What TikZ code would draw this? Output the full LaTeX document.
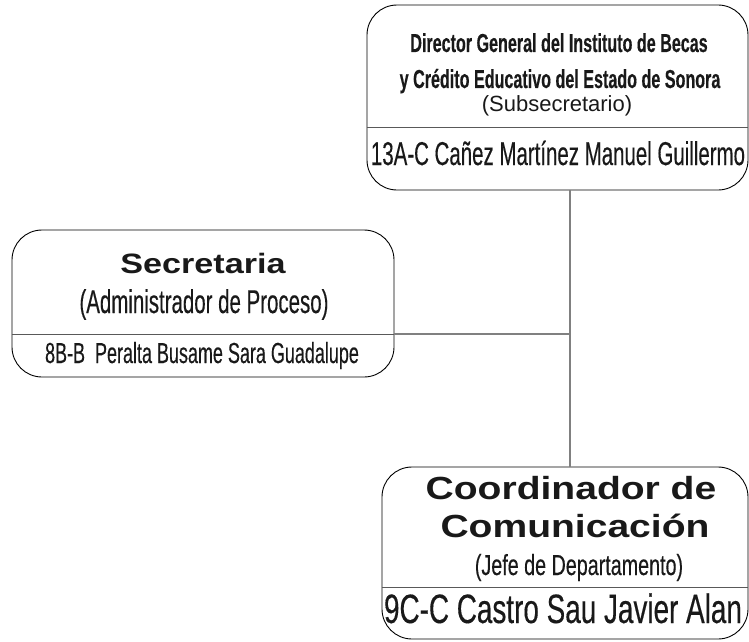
\documentclass[tikz,border=0pt]{standalone}
\usepackage{fontspec}
\setmainfont{Liberation Sans}
\newfontfamily\narrowfont[FakeStretch=0.62, FakeBold=0.3]{Liberation Sans}
\newfontfamily\narrowerfont[FakeStretch=0.68, FakeBold=0.3]{Liberation Sans}
\newfontfamily\widefont[FakeStretch=1.22]{Liberation Sans}
\tikzset{
  box/.style={draw=black, line width=0.9pt, rounded corners=30pt, inner sep=0pt, outer sep=0pt},
  divider/.style={draw=black!65, line width=0.9pt},
  link/.style={draw=black!50, line width=1.6pt},
  txt/.style={anchor=base, inner sep=0pt, text=black!90},
}
\begin{document}
\begin{tikzpicture}[x=1pt,y=-1pt]
  \useasboundingbox (0,0) rectangle (749,642);
  % boxes
  \node[box, minimum width=381pt, minimum height=185pt] (director) at (557.5,97.5) {};
  \node[box, minimum width=382pt, minimum height=147pt] (secretaria) at (203,303.5) {};
  \node[box, minimum width=366pt, minimum height=172pt] (coordinador) at (565,553) {};
  \draw[divider] (director.west |- 0,127) -- (director.east |- 0,127);
  \draw[divider] (secretaria.west |- 0,334) -- (secretaria.east |- 0,334);
  \draw[divider] (coordinador.west |- 0,587) -- (coordinador.east |- 0,587);
  % texts
  \node[txt, font=\narrowfont\bfseries\fontsize{26}{26}\selectfont] (dir1) at (559,52) {Director General del Instituto de Becas};
  \node[txt, font=\narrowfont\bfseries\fontsize{26}{26}\selectfont] (dir2) at (560,88) {y Crédito Educativo del Estado de Sonora};
  \node[txt, font=\fontsize{22}{22}\selectfont] (dir3) at (557,111) {(Subsecretario)};
  \node[txt, font=\narrowfont\fontsize{33}{33}\selectfont] (dirname) at (558,165) {13A-C Cañez Martínez Manuel Guillermo};
  \node[txt, font=\widefont\bfseries\fontsize{28}{28}\selectfont] (sec1) at (203,273) {Secretaria};
  \node[txt, font=\narrowfont\fontsize{33}{33}\selectfont] (sec2) at (204,313) {(Administrador de Proceso)};
  \node[txt, font=\narrowfont\fontsize{29}{29}\selectfont] (secname) at (202,363) {8B-B~ Peralta Busame Sara Guadalupe};
  \node[txt, font=\widefont\bfseries\fontsize{32}{32}\selectfont] (coo1) at (571,499) {Coordinador de};
  \node[txt, font=\widefont\bfseries\fontsize{32}{32}\selectfont] (coo2) at (575,537) {Comunicación};
  \node[txt, font=\narrowerfont\fontsize{29}{29}\selectfont] (coo3) at (579,575) {(Jefe de Departamento)};
  \node[txt, font=\narrowerfont\fontsize{41}{41}\selectfont] (cooname) at (563,623) {9C-C Castro Sau Javier Alan};
  % links
  \coordinate (joint) at (570,334);
  \draw[link] (director.south -| joint) -- (coordinador.north -| joint);
  \draw[link] (secretaria.east |- joint) -- (joint);
\end{tikzpicture}
\end{document}
